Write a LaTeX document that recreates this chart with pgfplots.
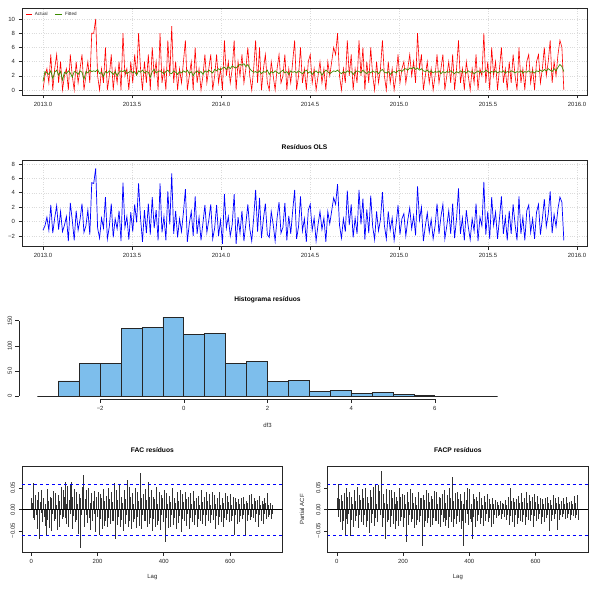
\documentclass[border=0pt]{standalone}
\usepackage{fontspec}
\setmainfont{Liberation Sans}
\usepackage{pgfplots}
\usepackage{pgfplotstable}
\pgfplotsset{compat=1.18}
\definecolor{fitgreen}{RGB}{60,140,0}
\definecolor{histblue}{RGB}{125,190,236}

\pgfplotstableread{
d A F R
0 0 1.2 -1.2
4 2 2.6 -0.6
8 3 2.4 0.6
12 1 2.2 -1.2
16 5 2.7 2.3
20 0 1.6 -1.6
24 3 2.5 0.5
28 5 2.8 2.2
32 1 2.1 -1.1
36 4 2.6 1.4
40 0 1.4 -1.4
44 2 2.5 -0.5
48 3 2.3 0.7
52 0 2.7 -2.7
56 5 2.4 2.6
60 2 1.8 0.2
64 0 2.6 -2.6
68 4 2.5 1.5
72 1 2.2 -1.2
76 3 2.7 0.3
80 5 2.5 2.5
84 0 1.5 -1.5
88 2 2.6 -0.6
92 4 2.4 1.6
96 1 2.8 -1.8
100 8 2.6 5.4
104 8 2.7 5.3
108 10 2.6 7.4
112 2 2.9 -0.9
116 0 2.3 -2.3
120 3 2.5 0.5
124 1 1.9 -0.9
128 6 2.6 3.4
132 0 2.4 -2.4
136 2 2.7 -0.7
140 5 2.5 2.5
144 0 2.2 -2.2
148 3 2.6 0.4
152 1 2.0 -1.0
156 4 2.5 1.5
160 0 2.7 -2.7
164 8 2.6 5.4
168 2 2.8 -0.8
172 3 2.3 0.7
176 0 2.5 -2.5
180 4 2.7 1.3
184 1 2.4 -1.4
188 5 2.6 2.4
192 2 2.1 -0.1
196 8 2.7 5.3
200 3 2.5 0.5
204 0 2.8 -2.8
208 4 2.4 1.6
212 1 2.6 -1.6
216 5 2.5 2.5
220 0 1.8 -1.8
224 6 2.6 3.4
228 2 2.9 -0.9
232 4 2.4 1.6
236 0 2.6 -2.6
240 8 2.7 5.3
244 1 2.5 -1.5
248 3 2.3 0.7
252 0 2.6 -2.6
256 7 2.8 4.2
260 2 2.4 -0.4
264 9 2.3 6.7
268 1 2.7 -1.7
272 4 2.5 1.5
276 0 2.2 -2.2
280 3 2.6 0.4
284 1 2.4 -1.4
288 4 2.7 1.3
292 7 2.5 4.5
296 0 2.8 -2.8
300 2 2.3 -0.3
304 4 2.6 1.4
308 0 2.0 -2.0
312 6 2.5 3.5
316 1 2.7 -1.7
320 3 2.4 0.6
324 0 2.6 -2.6
328 2 2.2 -0.2
332 5 2.7 2.3
336 1 2.5 -1.5
340 3 2.8 0.2
344 5 2.6 2.4
348 0 2.4 -2.4
352 2 2.9 -0.9
356 5 2.7 2.3
360 1 3.0 -2.0
364 3 2.8 0.2
368 0 3.1 -3.1
372 7 3.2 3.8
376 2 2.9 -0.9
380 4 3.3 0.7
384 1 3.0 -2.0
388 3 3.4 -0.4
392 7 3.2 3.8
396 0 3.1 -3.1
400 4 3.4 0.6
404 2 3.6 -1.6
408 5 3.5 1.5
412 1 3.7 -2.7
416 3 3.3 -0.3
420 6 3.6 2.4
424 2 3.0 -1.0
428 0 2.7 -2.7
432 3 2.5 0.5
436 7 2.6 4.4
440 1 2.4 -1.4
444 6 2.7 3.3
448 0 2.3 -2.3
452 3 2.6 0.4
456 5 2.5 2.5
460 1 2.8 -1.8
464 0 2.2 -2.2
468 4 2.6 1.4
472 2 2.4 -0.4
476 0 2.7 -2.7
480 3 2.5 0.5
484 5 2.3 2.7
488 1 2.6 -1.6
492 2 2.8 -0.8
496 5 2.4 2.6
500 0 2.6 -2.6
504 3 2.2 0.8
508 1 2.7 -1.7
512 4 2.5 1.5
516 7 2.6 4.4
520 0 2.4 -2.4
524 2 2.7 -0.7
528 6 2.5 3.5
532 1 2.3 -1.3
536 3 2.6 0.4
540 0 2.8 -2.8
544 4 2.4 1.6
548 5 2.6 2.4
552 1 2.2 -1.2
556 3 2.5 0.5
560 0 2.7 -2.7
564 2 2.4 -0.4
568 4 2.6 1.4
572 1 2.1 -1.1
576 3 2.5 0.5
580 0 2.8 -2.8
584 4 2.6 1.4
588 2 2.3 -0.3
592 4 2.5 1.5
596 6 2.7 3.3
600 5 2.6 2.4
604 8 2.8 5.2
608 2 2.5 -0.5
612 0 2.3 -2.3
616 3 2.6 0.4
620 1 2.4 -1.4
624 7 2.7 4.3
628 2 2.5 -0.5
632 5 2.6 2.4
636 0 2.2 -2.2
640 3 2.5 0.5
644 1 2.7 -1.7
648 7 2.6 4.4
652 2 2.4 -0.4
656 6 2.8 3.2
660 0 2.5 -2.5
664 4 2.3 1.7
668 1 2.6 -1.6
672 6 2.4 3.6
676 2 2.7 -0.7
680 0 2.5 -2.5
684 4 2.6 1.4
688 1 2.3 -1.3
692 3 2.7 0.3
696 7 2.9 4.1
700 2 2.5 -0.5
704 0 2.4 -2.4
708 4 2.6 1.4
712 1 2.2 -1.2
716 3 2.5 0.5
720 0 2.6 -2.6
724 2 2.4 -0.4
728 5 2.7 2.3
732 1 2.8 -1.8
736 3 2.6 0.4
740 4 2.9 1.1
744 1 3.0 -2.0
748 3 2.8 0.2
752 5 3.1 1.9
756 2 3.0 -1.0
760 4 3.2 0.8
764 1 2.9 -1.9
768 8 3.1 4.9
772 3 2.8 0.2
776 5 3.0 2.0
780 0 2.7 -2.7
784 2 2.6 -0.6
788 4 2.8 1.2
792 1 2.5 -1.5
796 3 2.7 0.3
800 0 2.4 -2.4
804 2 2.6 -0.6
808 5 2.5 2.5
812 1 2.7 -1.7
816 3 2.3 0.7
820 5 2.6 2.4
824 0 2.4 -2.4
828 2 2.6 -0.6
832 4 2.5 1.5
836 1 2.7 -1.7
840 5 2.5 2.5
844 0 2.3 -2.3
848 3 2.6 0.4
852 7 2.4 4.6
856 1 2.7 -1.7
860 3 2.5 0.5
864 0 2.6 -2.6
868 4 2.4 1.6
872 2 2.7 -0.7
876 0 2.5 -2.5
880 3 2.6 0.4
884 1 2.3 -1.3
888 5 2.5 2.5
892 0 2.7 -2.7
896 3 2.4 0.6
900 2 2.6 -0.6
904 8 2.5 5.5
908 1 2.8 -1.8
912 4 2.6 1.4
916 0 2.4 -2.4
920 6 2.6 3.4
924 2 2.5 -0.5
928 4 2.7 1.3
932 0 2.4 -2.4
936 3 2.6 0.4
940 6 2.5 3.5
944 1 2.7 -1.7
948 3 2.4 0.6
952 0 2.6 -2.6
956 4 2.5 1.5
960 1 2.7 -1.7
964 5 2.6 2.4
968 2 2.4 -0.4
972 0 2.6 -2.6
976 6 2.5 3.5
980 1 2.7 -1.7
984 3 2.4 0.6
988 0 2.6 -2.6
992 4 2.5 1.5
996 5 2.7 2.3
1000 1 2.5 -1.5
1004 3 2.6 0.4
1008 0 2.4 -2.4
1012 4 2.7 1.3
1016 5 2.6 2.4
1020 1 2.8 -1.8
1024 3 2.6 0.4
1028 6 2.9 3.1
1032 2 2.7 -0.7
1036 4 3.0 1.0
1040 7 2.8 4.2
1044 1 2.6 -1.6
1048 4 3.0 1.0
1052 2 2.7 -0.7
1056 5 3.2 1.8
1060 7 3.6 3.4
1064 6 3.3 2.7
1068 0 2.6 -2.6
}\tsdata

\pgfplotstableread{
x n
-3.5 0
-3.0 30
-2.5 65
-2.0 65
-1.5 135
-1.0 136
-0.5 157
0.0 122
0.5 125
1.0 65
1.5 69
2.0 29
2.5 31
3.0 9
3.5 12
4.0 6
4.5 7
5.0 4
5.5 1
6.0 0
6.5 0
7.0 0
7.5 0
}\histdata

\pgfplotstableread{
lag v
1 0.028
5 0.062
9 -0.025
13 0.035
17 -0.045
21 0.041
25 -0.068
29 0.046
33 -0.030
37 0.022
41 -0.038
45 -0.062
49 0.048
53 -0.044
57 0.030
61 -0.051
65 0.044
69 -0.027
73 0.038
77 -0.048
81 0.035
85 -0.041
89 0.052
93 -0.022
97 0.046
101 0.065
105 -0.035
109 0.054
113 -0.040
117 0.058
121 0.065
125 -0.045
129 0.048
133 -0.030
137 0.042
141 -0.058
145 0.036
149 -0.090
153 0.052
157 0.080
161 -0.040
165 0.045
169 -0.032
173 0.050
177 -0.048
181 0.038
185 -0.026
189 0.044
193 -0.052
197 0.030
201 0.041
205 -0.060
209 0.036
213 -0.045
217 0.048
221 -0.038
225 0.032
229 -0.042
233 0.051
237 -0.035
241 0.040
245 -0.028
249 0.063
253 -0.070
257 0.045
261 -0.036
265 0.058
269 -0.042
273 0.030
277 -0.050
281 0.046
285 -0.033
289 0.068
293 -0.040
297 0.052
301 -0.046
305 0.038
309 -0.030
313 0.050
317 -0.044
321 0.042
325 -0.038
329 0.085
333 -0.045
337 0.036
341 -0.028
345 0.048
349 -0.040
353 0.065
357 -0.035
361 0.045
365 -0.050
369 0.030
373 -0.042
377 0.052
381 -0.036
385 0.040
389 -0.048
393 0.034
397 -0.030
401 0.046
405 -0.075
409 0.038
413 -0.044
417 0.032
421 -0.040
425 0.050
429 -0.036
433 0.028
437 -0.045
441 0.040
445 -0.032
449 0.046
453 -0.052
457 0.036
461 -0.028
465 0.042
469 -0.038
473 0.030
477 -0.046
481 0.038
485 -0.030
489 0.044
493 -0.036
497 0.028
501 -0.040
505 0.032
509 -0.026
513 0.045
517 -0.034
521 0.030
525 -0.038
529 0.040
533 -0.028
537 0.036
541 -0.032
545 0.042
549 -0.025
553 0.034
557 -0.045
561 0.028
565 -0.036
569 0.040
573 -0.030
577 0.026
581 -0.042
585 0.038
589 -0.024
593 0.032
597 -0.030
601 0.036
605 -0.026
609 0.030
613 -0.060
617 0.028
621 -0.034
625 0.024
629 -0.030
633 0.026
637 -0.022
641 0.030
645 -0.060
649 0.020
653 -0.028
657 0.034
661 -0.024
665 0.036
669 -0.020
673 0.026
677 -0.030
681 0.022
685 -0.040
689 0.032
693 -0.028
697 0.020
701 -0.034
705 0.026
709 -0.022
713 0.038
717 -0.018
721 0.015
725 -0.022
729 0.010
}\facdata

\pgfplotstableread{
lag v
3 0.015
7 -0.020
11 0.030
15 -0.012
19 0.022
23 -0.030
27 0.018
31 -0.008
35 0.026
39 -0.018
43 0.012
47 -0.025
51 0.020
55 -0.015
59 0.028
63 -0.010
67 0.016
71 -0.022
75 0.010
79 -0.030
83 0.020
87 -0.012
91 0.025
95 -0.018
99 0.030
103 -0.020
107 0.014
111 -0.028
115 0.022
119 -0.010
123 0.030
127 -0.016
131 0.020
135 -0.024
139 0.012
143 -0.030
147 0.026
151 -0.014
155 0.018
159 -0.022
163 0.025
167 -0.012
171 0.030
175 -0.020
179 0.015
183 -0.026
187 0.020
191 -0.010
195 0.028
199 -0.018
203 0.014
207 -0.022
211 0.026
215 -0.016
219 0.020
223 -0.028
227 0.012
231 -0.020
235 0.024
239 -0.014
243 0.018
247 -0.026
251 0.030
255 -0.012
259 0.022
263 -0.018
267 0.028
271 -0.024
275 0.016
279 -0.020
283 0.024
287 -0.014
291 0.020
295 -0.028
299 0.030
303 -0.016
307 0.012
311 -0.022
315 0.026
319 -0.018
323 0.020
327 -0.024
331 0.028
335 -0.012
339 0.018
343 -0.026
347 0.022
351 -0.016
355 0.030
359 -0.020
363 0.016
367 -0.022
371 0.024
375 -0.018
379 0.012
383 -0.028
387 0.020
391 -0.014
395 0.026
399 -0.010
403 0.022
407 -0.020
411 0.014
415 -0.026
419 0.018
423 -0.012
427 0.024
431 -0.020
435 0.016
439 -0.024
443 0.020
447 -0.016
451 0.012
455 -0.022
459 0.018
463 -0.014
467 0.024
471 -0.010
475 0.016
479 -0.020
483 0.014
487 -0.018
491 0.020
495 -0.012
499 0.016
503 -0.022
507 0.010
511 -0.016
515 0.018
519 -0.014
523 0.016
527 -0.012
531 0.020
535 -0.018
539 0.010
543 -0.014
547 0.018
551 -0.020
555 0.012
559 -0.016
563 0.014
567 -0.018
571 0.010
575 -0.012
579 0.016
583 -0.020
587 0.012
591 -0.010
595 0.018
599 -0.014
603 0.010
607 -0.016
611 0.014
615 -0.012
619 0.018
623 -0.010
627 0.012
631 -0.016
635 0.010
639 -0.014
643 0.012
647 -0.010
651 0.016
655 -0.014
659 0.010
663 -0.018
667 0.014
671 -0.012
675 0.020
679 -0.010
683 0.014
687 -0.012
691 0.010
695 -0.016
699 0.012
703 -0.010
707 0.016
711 -0.014
715 0.010
719 -0.012
723 0.008
727 -0.010
}\facmid

\pgfplotstableread{
lag v
1 0.028
5 0.060
9 -0.030
13 0.034
17 -0.048
21 0.038
25 -0.062
29 0.050
33 -0.035
37 0.040
41 -0.062
45 0.030
49 -0.040
53 0.046
57 -0.028
61 0.052
65 -0.044
69 0.035
73 -0.030
77 0.048
81 -0.036
85 0.050
89 -0.042
93 0.030
97 -0.055
101 0.045
105 -0.032
109 0.052
113 -0.038
117 0.060
121 -0.030
125 0.058
129 0.044
133 0.090
137 -0.040
141 0.036
145 -0.070
149 0.048
153 -0.030
157 0.046
161 -0.040
165 0.045
169 -0.034
173 0.040
177 -0.046
181 0.030
185 -0.038
189 0.050
193 -0.028
197 0.036
201 -0.042
205 0.034
209 -0.075
213 0.040
217 -0.036
221 0.048
225 -0.030
229 0.038
233 -0.044
237 0.030
241 -0.036
245 0.040
249 -0.030
253 0.028
257 -0.085
261 0.034
265 -0.040
269 0.046
273 -0.032
277 0.038
281 -0.040
285 0.032
289 -0.036
293 0.044
297 -0.028
301 0.040
305 -0.034
309 0.030
313 -0.042
317 0.036
321 -0.030
325 0.046
329 -0.038
333 0.034
337 -0.044
341 0.050
345 -0.030
349 0.075
353 -0.040
357 0.038
361 -0.034
365 0.042
369 -0.030
373 0.036
377 -0.046
381 -0.085
385 0.040
389 -0.032
393 0.050
397 -0.036
401 0.048
405 -0.030
409 -0.070
413 0.036
417 -0.040
421 0.030
425 -0.028
429 0.040
433 -0.034
437 0.026
441 -0.038
445 0.032
449 -0.026
453 0.036
457 -0.030
461 0.024
465 -0.040
469 0.028
473 -0.034
477 0.022
481 -0.020
485 0.018
489 -0.016
493 0.020
497 -0.022
501 0.016
505 -0.018
509 0.022
513 -0.024
517 0.030
521 -0.036
525 0.050
529 -0.030
533 0.028
537 -0.040
541 0.024
545 -0.034
549 0.032
553 -0.026
557 0.038
561 -0.030
565 0.026
569 -0.036
573 0.040
577 -0.024
581 0.034
585 -0.028
589 0.030
593 -0.042
597 0.036
601 -0.026
605 0.032
609 -0.022
613 0.028
617 -0.034
621 0.024
625 -0.030
629 0.026
633 -0.020
637 0.030
641 -0.050
645 0.022
649 -0.026
653 0.034
657 -0.022
661 0.028
665 -0.048
669 0.030
673 -0.024
677 0.020
681 -0.018
685 0.026
689 -0.022
693 0.030
697 -0.020
701 0.018
705 -0.024
709 0.020
713 -0.016
717 0.032
721 -0.020
725 0.034
729 -0.025
}\facpdata

\pgfplotstableread{
lag v
3 -0.018
7 0.025
11 -0.012
15 0.020
19 -0.028
23 0.014
27 -0.022
31 0.030
35 -0.010
39 0.018
43 -0.024
47 0.012
51 -0.030
55 0.020
59 -0.016
63 0.026
67 -0.012
71 0.022
75 -0.018
79 0.028
83 -0.014
87 0.020
91 -0.026
95 0.016
99 -0.022
103 0.030
107 -0.010
111 0.024
115 -0.020
119 0.014
123 -0.026
127 0.018
131 -0.012
135 0.028
139 -0.020
143 0.016
147 -0.030
151 0.012
155 -0.024
159 0.020
163 -0.016
167 0.026
171 -0.022
175 0.014
179 -0.028
183 0.020
187 -0.012
191 0.030
195 -0.018
199 0.024
203 -0.020
207 0.012
211 -0.026
215 0.018
219 -0.014
223 0.028
227 -0.022
231 0.016
235 -0.030
239 0.010
243 -0.024
247 0.020
251 -0.016
255 0.026
259 -0.012
263 0.022
267 -0.028
271 0.014
275 -0.020
279 0.018
283 -0.012
287 0.024
291 -0.020
295 0.016
299 -0.026
303 0.012
307 -0.018
311 0.028
315 -0.014
319 0.022
323 -0.020
327 0.016
331 -0.024
335 0.012
339 -0.018
343 0.026
347 -0.014
351 0.020
355 -0.022
359 0.010
363 -0.016
367 0.024
371 -0.012
375 0.020
379 -0.026
383 0.014
387 -0.018
391 0.022
395 -0.010
399 0.016
403 -0.022
407 0.012
411 -0.018
415 0.024
419 -0.014
423 0.020
427 -0.012
431 0.016
435 -0.020
439 0.010
443 -0.014
447 0.018
451 -0.010
455 0.016
459 -0.020
463 0.012
467 -0.016
471 0.014
475 -0.012
479 0.010
483 -0.008
487 0.010
491 -0.012
495 0.008
499 -0.010
503 0.012
507 -0.008
511 0.010
515 -0.012
519 0.014
523 -0.016
527 0.020
531 -0.012
535 0.018
539 -0.014
543 0.010
547 -0.020
551 0.016
555 -0.012
559 0.018
563 -0.014
567 0.012
571 -0.018
575 0.016
579 -0.010
583 0.020
587 -0.014
591 0.012
595 -0.016
599 0.018
603 -0.012
607 0.014
611 -0.010
615 0.016
619 -0.018
623 0.012
627 -0.014
631 0.010
635 -0.012
639 0.016
643 -0.018
647 0.010
651 -0.014
655 0.012
659 -0.010
663 0.016
667 -0.020
671 0.014
675 -0.012
679 0.010
683 -0.010
687 0.012
691 -0.014
695 0.016
699 -0.010
703 0.008
707 -0.012
711 0.014
715 -0.010
719 0.016
723 -0.012
727 0.014
}\facpmid

\pgfplotsset{
  rbase/.style={
    scale only axis,
    axis line style={black!85, line width=0.7bp},
    tick style={black!85, line width=0.6bp},
    tick align=outside,
    major tick length=3.5bp,
    tick pos=left,
    scaled ticks=false,
    /pgf/number format/assume math mode=true,
    ticklabel style={font=\fontsize{6}{7}\selectfont, text=black!85},
    title style={font=\bfseries\fontsize{6.7}{8}\selectfont, yshift=-6pt},
    label style={font=\fontsize{6}{7}\selectfont, text=black!85},
  },
  rgrid/.style={grid=major, grid style={dotted, black!14, line width=0.4bp}},
}

\begin{document}
\begin{tikzpicture}
\useasboundingbox (0bp,0bp) rectangle (595bp,607bp);

% Panel 1: Actual vs Fitted
\begin{axis}[rbase, rgrid, at={(22bp,512bp)}, anchor=south west, width=565bp, height=87bp,
  xmin=-43.06, xmax=1115.5, ymin=-0.7, ymax=11.55,
  xtick={0,182.5,365,547.5,730,912.5,1095},
  xticklabels={2013.0,2013.5,2014.0,2014.5,2015.0,2015.5,2016.0},
  ytick={0,2,4,6,8,10}, yticklabels={0,2,4,6,8,10},
]
\addplot[draw=red, line width=0.6bp] table[x=d,y=A]{\tsdata};
\addplot[draw=fitgreen, line width=0.7bp] table[x=d,y=F]{\tsdata};
% legend (no frame), as in the reference
\draw[red, line width=0.8bp] (rel axis cs:0.0071,0.931) -- (rel axis cs:0.0177,0.931);
\node[anchor=west, inner sep=0pt, font=\fontsize{4.6}{5}\selectfont, text=black!85] at (rel axis cs:0.0225,0.931) {Actual};
\draw[fitgreen, line width=0.8bp] (rel axis cs:0.0584,0.931) -- (rel axis cs:0.0708,0.931);
\node[anchor=west, inner sep=0pt, font=\fontsize{4.6}{5}\selectfont, text=black!85] at (rel axis cs:0.0760,0.931) {Fitted};
\end{axis}

% Panel 2: residuals
\begin{axis}[rbase, rgrid, at={(22bp,360.3bp)}, anchor=south west, width=565bp, height=86bp,
  xmin=-43.06, xmax=1115.5, ymin=-3.49, ymax=8.46,
  xtick={0,182.5,365,547.5,730,912.5,1095},
  xticklabels={2013.0,2013.5,2014.0,2014.5,2015.0,2015.5,2016.0},
  ytick={-2,0,2,4,6,8}, yticklabels={−2,0,2,4,6,8},
  title={Resíduos OLS},
  title style={at={(axis description cs:0.5,1.159)}, anchor=center},
]
\addplot[blue, line width=0.7bp] table[x=d,y=R]{\tsdata};
\end{axis}

% Panel 3: histogram
\begin{axis}[rbase, at={(19bp,207.8bp)}, anchor=south west, width=497bp, height=85.2bp,
  xmin=-3.94, xmax=7.94, ymin=-6.28, ymax=163.3,
  axis line style={draw=none}, clip=false,
  xtick={-2,0,2,4,6}, xticklabels={−2,0,2,4,6},
  ytick={0,50,100,150}, yticklabels={0,50,100,150},
  yticklabel style={rotate=90, anchor=south},
  title={Histograma resíduos},
  title style={at={(axis description cs:0.5,1.164)}, anchor=center},
  xlabel={df3},
  xlabel style={at={(axis description cs:0.5,-0.311)}, anchor=center},
]
\addplot[ybar interval, fill=histblue, draw=black!85, line width=0.7bp] table[x=x,y=n]{\histdata};
\draw[black!85, line width=0.7bp] (axis cs:-2,-6.28) -- (axis cs:6,-6.28);
\draw[black!85, line width=0.7bp] (axis cs:-3.94,0) -- (axis cs:-3.94,150);
\end{axis}

% Panel 4: FAC
\begin{axis}[rbase, at={(22bp,54.7bp)}, anchor=south west, width=260.7bp, height=85.6bp,
  xmin=-28.2, xmax=759.2, ymin=-0.1, ymax=0.1,
  xtick={0,200,400,600}, xticklabels={0,200,400,600},
  ytick={-0.05,0,0.05}, yticklabels={−0.05,0.00,0.05},
  yticklabel style={rotate=90, anchor=south},
  title={FAC resíduos},
  title style={at={(axis description cs:0.5,1.195)}, anchor=center},
  xlabel={Lag},
  xlabel style={at={(axis description cs:0.5,-0.289)}, anchor=center},
]
\addplot[ycomb, black!80, line width=0.55bp] table[x=lag,y=v]{\facdata};
\addplot[ycomb, black!80, line width=0.55bp] table[x=lag,y=v]{\facmid};
\addplot[black, line width=0.6bp] coordinates {(-28.2,0) (759.2,0)};
\addplot[blue, dashed, line width=0.6bp] coordinates {(-28.2,0.06) (759.2,0.06)};
\addplot[blue, dashed, line width=0.6bp] coordinates {(-28.2,-0.06) (759.2,-0.06)};
\end{axis}

% Panel 5: FACP
\begin{axis}[rbase, at={(327.5bp,54.7bp)}, anchor=south west, width=260.7bp, height=85.6bp,
  xmin=-28.2, xmax=759.2, ymin=-0.1, ymax=0.1,
  xtick={0,200,400,600}, xticklabels={0,200,400,600},
  ytick={-0.05,0,0.05}, yticklabels={−0.05,0.00,0.05},
  yticklabel style={rotate=90, anchor=south},
  title={FACP resíduos},
  title style={at={(axis description cs:0.5,1.195)}, anchor=center},
  xlabel={Lag},
  xlabel style={at={(axis description cs:0.5,-0.289)}, anchor=center},
  ylabel={Partial ACF},
  ylabel style={at={(axis description cs:-0.098,0.5)}, anchor=center},
]
\addplot[ycomb, black!80, line width=0.55bp] table[x=lag,y=v]{\facpdata};
\addplot[ycomb, black!80, line width=0.55bp] table[x=lag,y=v]{\facpmid};
\addplot[black, line width=0.6bp] coordinates {(-28.2,0) (759.2,0)};
\addplot[blue, dashed, line width=0.6bp] coordinates {(-28.2,0.06) (759.2,0.06)};
\addplot[blue, dashed, line width=0.6bp] coordinates {(-28.2,-0.06) (759.2,-0.06)};
\end{axis}
\end{tikzpicture}
\end{document}
